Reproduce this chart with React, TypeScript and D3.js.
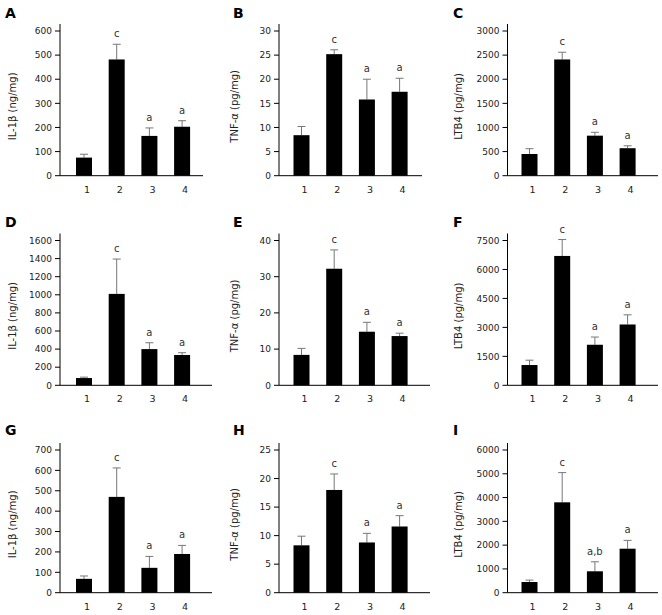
import React from "react";
import * as d3 from "d3";

const groups = ["1", "2", "3", "4"];
const panelLetters = ["A", "B", "C", "D", "E", "F", "G", "H", "I"];
const measureNames = ["IL-1β", "TNF-α", "LTB4"];
const measureUnits = ["(ng/mg)", "(pg/mg)", "(pg/mg)"];

const meansA = [75, 482, 165, 203];
const errA = [14, 63, 33, 25];
const meansB = [8.4, 25.2, 15.8, 17.4];
const errB = [1.8, 0.9, 4.2, 2.8];
const meansC = [450, 2410, 830, 570];
const errC = [110, 150, 70, 50];
const meansD = [80, 1010, 400, 335];
const errD = [10, 385, 70, 25];
const meansE = [8.4, 32.2, 14.8, 13.6];
const errE = [1.8, 5.2, 2.6, 0.8];
const meansF = [1050, 6700, 2100, 3150];
const errF = [250, 850, 400, 500];
const meansG = [68, 470, 122, 190];
const errG = [14, 142, 56, 42];
const meansH = [8.3, 18.0, 8.8, 11.6];
const errH = [1.6, 2.8, 1.6, 1.9];
const meansI = [450, 3800, 900, 1850];
const errI = [80, 1250, 400, 350];

const sigStd = ["", "c", "a", "a"];
const sigI = ["", "c", "a,b", "a"];

const yMaxes = [600, 30, 3000, 1600, 40, 7500, 700, 25, 6000];
const ySteps = [100, 5, 500, 200, 10, 1500, 100, 5, 1000];

const allMeans = [meansA, meansB, meansC, meansD, meansE, meansF, meansG, meansH, meansI];
const allErrs = [errA, errB, errC, errD, errE, errF, errG, errH, errI];
const allSigs = [sigStd, sigStd, sigStd, sigStd, sigStd, sigStd, sigStd, sigStd, sigI];

// layout
const colAxisX = [60, 279, 507.5];
const colBarOffset = [16, 14.5, 14];
const rowZeroY = [175.7, 385.3, 592.7];
const rowTopY = [31, 240.5, 450];
const xAxisEnd = [
  [203, 422, 658],
  [212, 430, 658],
  [212, 430, 658],
];
const colLetterX = [5, 233, 453];
const colLabelOffset = [44, 41, 46];

const FONT = "'DejaVu Sans', Verdana, sans-serif";
const BAR_W = 16;
const STEP = 32.7;

function Panel({ idx }: { idx: number }) {
  const row = Math.floor(idx / 3);
  const col = idx % 3;
  const ax = colAxisX[col];
  const y0 = rowZeroY[row];
  const yT = rowTopY[row];
  const y = d3.scaleLinear().domain([0, yMaxes[idx]]).range([y0, yT]);
  const ticks = d3.range(0, yMaxes[idx] + ySteps[idx] / 2, ySteps[idx]);
  const c1 = ax + colBarOffset[col] + BAR_W / 2;
  const x = d3.scalePoint<string>().domain(groups).range([c1, c1 + STEP * 3]);
  const means = allMeans[idx];
  const errs = allErrs[idx];
  const sigs = allSigs[idx];
  const mi = col;
  return (
    <g>
      <text x={colLetterX[col]} y={y0 - 158} fontFamily={FONT} fontWeight="bold" fontSize={14} fill="#000">
        {panelLetters[idx]}
      </text>
      <text
        transform={`translate(${ax - colLabelOffset[col]},${(y0 + yT) / 2 + 3}) rotate(-90)`}
        textAnchor="middle"
        fontFamily={FONT}
        fontSize={10}
        fill="#222"
      >
        {measureNames[mi]} {measureUnits[mi]}
      </text>
      {/* axes */}
      <line x1={ax} x2={ax} y1={yT - 7} y2={y0} stroke="#000" strokeWidth={1} />
      <line x1={ax} x2={xAxisEnd[row][col]} y1={y0} y2={y0} stroke="#000" strokeWidth={1} />
      {ticks.map((t) => (
        <g key={t}>
          <line x1={ax - 5} x2={ax} y1={y(t)} y2={y(t)} stroke="#000" strokeWidth={1} />
          <text x={ax - 8} y={y(t) + 3.2} textAnchor="end" fontFamily={FONT} fontSize={9} fill="#222">
            {t}
          </text>
        </g>
      ))}
      {groups.map((g, i) => {
        const cx = x(g) as number;
        const top = y(means[i]);
        const et = y(means[i] + errs[i]);
        return (
          <g key={g}>
            <line x1={cx} x2={cx} y1={top} y2={et} stroke="#777" strokeWidth={1} />
            <line x1={cx - 4} x2={cx + 4} y1={et} y2={et} stroke="#777" strokeWidth={1} />
            <rect x={cx - BAR_W / 2} y={top} width={BAR_W} height={y0 - top} fill="#000" />
            {sigs[i] && (
              <text x={cx} y={et - 7} textAnchor="middle" fontFamily={FONT} fontSize={10} fill="#333">
                {sigs[i]}
              </text>
            )}
            <text x={cx + 3} y={y0 + 17} textAnchor="middle" fontFamily={FONT} fontSize={9.5} fill="#222">
              {g}
            </text>
          </g>
        );
      })}
    </g>
  );
}

export default function App() {
  return (
    <svg width={662} height={615} style={{ position: "absolute", left: 0, top: 0, background: "#fff" }}>
      <rect width={662} height={615} fill="#fff" />
      {panelLetters.map((_, i) => (
        <Panel key={i} idx={i} />
      ))}
    </svg>
  );
}
